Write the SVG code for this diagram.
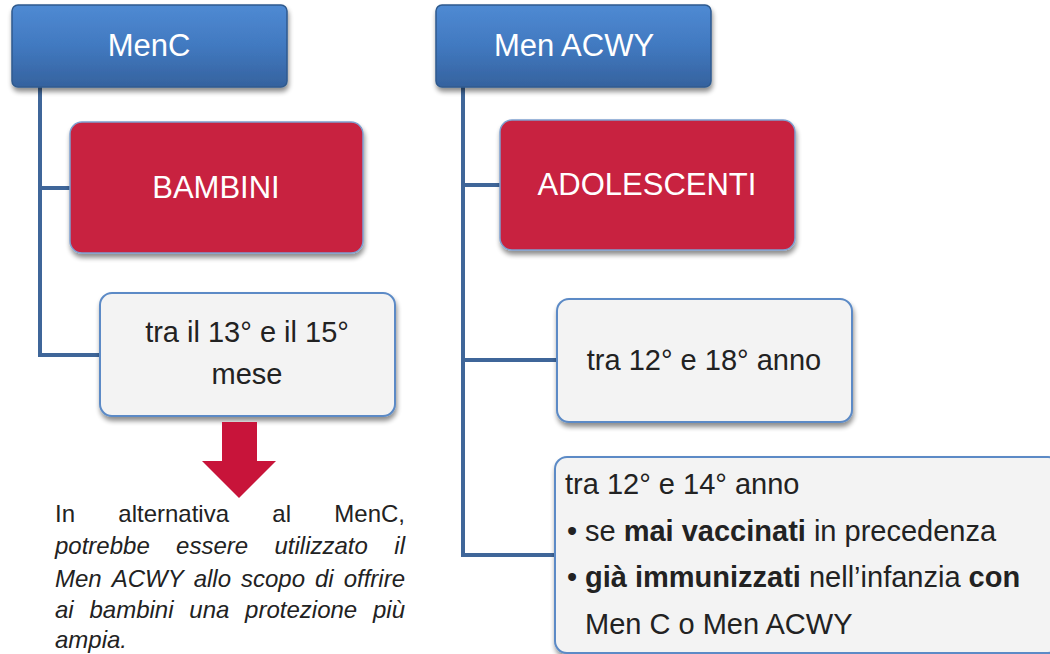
<svg xmlns="http://www.w3.org/2000/svg" width="1050" height="654" viewBox="0 0 1050 654">
<defs>
<linearGradient id="gBlue" x1="0" y1="0" x2="0" y2="1">
<stop offset="0" stop-color="#4f8ad3"/>
<stop offset="0.5" stop-color="#4179c0"/>
<stop offset="1" stop-color="#35629e"/>
</linearGradient>
<filter id="sh" x="-10%" y="-10%" width="125%" height="130%">
<feGaussianBlur in="SourceAlpha" stdDeviation="2.5"/>
<feOffset dx="1" dy="4" result="b"/>
<feComponentTransfer><feFuncA type="linear" slope="0.45"/></feComponentTransfer>
<feMerge><feMergeNode/><feMergeNode in="SourceGraphic"/></feMerge>
</filter>
</defs>
<style>
.head{fill:url(#gBlue);stroke:#2f5a8e;stroke-width:1.5}
.red{fill:#c8203f;stroke:#7fa0cf;stroke-width:1.5}
.grey{fill:#f3f3f3;stroke:#5b8ac6;stroke-width:2}
.wt{fill:#ffffff;font-family:"Liberation Sans",Arial,sans-serif;font-size:31px;text-anchor:middle}
.dt{fill:#222222;font-family:"Liberation Sans",Arial,sans-serif;font-size:29px}
.it{fill:#222222;font-family:"Liberation Sans",Arial,sans-serif;font-size:24px}
.e{text-anchor:end}
.conn{fill:none;stroke:#3f6699;stroke-width:4}
</style>
<g id="connectors">
<path class="conn" d="M40 87 V355 H102 M40 188 H72"/>
<path class="conn" d="M463 87 V555 H557 M463 185 H502 M463 360 H559"/>
</g>
<g id="n-menc">
<rect class="head" x="12" y="5" width="275" height="82" rx="6" filter="url(#sh)"/>
<text class="wt" x="149" y="56">MenC</text>
</g>
<g id="n-menacwy">
<rect class="head" x="436" y="5" width="275" height="82" rx="6" filter="url(#sh)"/>
<text class="wt" x="574" y="56">Men ACWY</text>
</g>
<g id="n-bambini">
<rect class="red" x="70" y="122" width="293" height="131" rx="12" filter="url(#sh)"/>
<text class="wt" x="216" y="198">BAMBINI</text>
</g>
<g id="n-adolescenti">
<rect class="red" x="500" y="120" width="295" height="130" rx="12" filter="url(#sh)"/>
<text class="wt" x="647" y="195">ADOLESCENTI</text>
</g>
<g id="n-mese">
<rect class="grey" x="100" y="293" width="295" height="123" rx="12" filter="url(#sh)"/>
<text class="dt" x="247" y="342" text-anchor="middle">tra il 13° e il 15°</text>
<text class="dt" x="247" y="384" text-anchor="middle">mese</text>
</g>
<g id="n-anno1218">
<rect class="grey" x="557" y="299" width="295" height="123" rx="12" filter="url(#sh)"/>
<text class="dt" x="704" y="370" text-anchor="middle">tra 12° e 18° anno</text>
</g>
<g id="n-anno1214">
<rect class="grey" x="555" y="457" width="505" height="196" rx="12" filter="url(#sh)"/>
<text class="dt" x="565" y="494">tra 12° e 14° anno</text>
<text class="dt" x="567" y="541"><tspan>•</tspan><tspan x="585">se </tspan><tspan font-weight="bold">mai vaccinati</tspan><tspan> in precedenza</tspan></text>
<text class="dt" x="567" y="587"><tspan>•</tspan><tspan x="585" font-weight="bold">già immunizzati</tspan><tspan> nell’infanzia </tspan><tspan font-weight="bold">con</tspan></text>
<text class="dt" x="585" y="634">Men C o Men ACWY</text>
</g>
<g id="arrow">
<polygon points="222,422 257,422 257,461 276,461 239,498 202,461 222,461" fill="#c8143a"/>
</g>
<g id="note">
<text class="it" y="522"><tspan x="55">In</tspan><tspan x="118.3">alternativa</tspan><tspan x="272.3">al</tspan></text>
<text class="it e" x="405" y="522">MenC,</text>
<text class="it" y="554" font-style="italic"><tspan x="55">potrebbe</tspan><tspan x="176.1">essere</tspan><tspan x="274.5">utilizzato</tspan></text>
<text class="it e" x="405" y="554" font-style="italic">il</text>
<text class="it" y="587" font-style="italic"><tspan x="55">Men</tspan><tspan x="111.7">ACWY</tspan><tspan x="193.7">allo</tspan><tspan x="241">scopo</tspan><tspan x="315">di</tspan></text>
<text class="it e" x="405" y="587" font-style="italic">offrire</text>
<text class="it" y="618" font-style="italic"><tspan x="55">ai</tspan><tspan x="89.5">bambini</tspan><tspan x="189.3">una</tspan><tspan x="245.1">protezione</tspan></text>
<text class="it e" x="405" y="618" font-style="italic">più</text>
<text class="it" x="55" y="648" font-style="italic">ampia.</text>
</g>
</svg>
